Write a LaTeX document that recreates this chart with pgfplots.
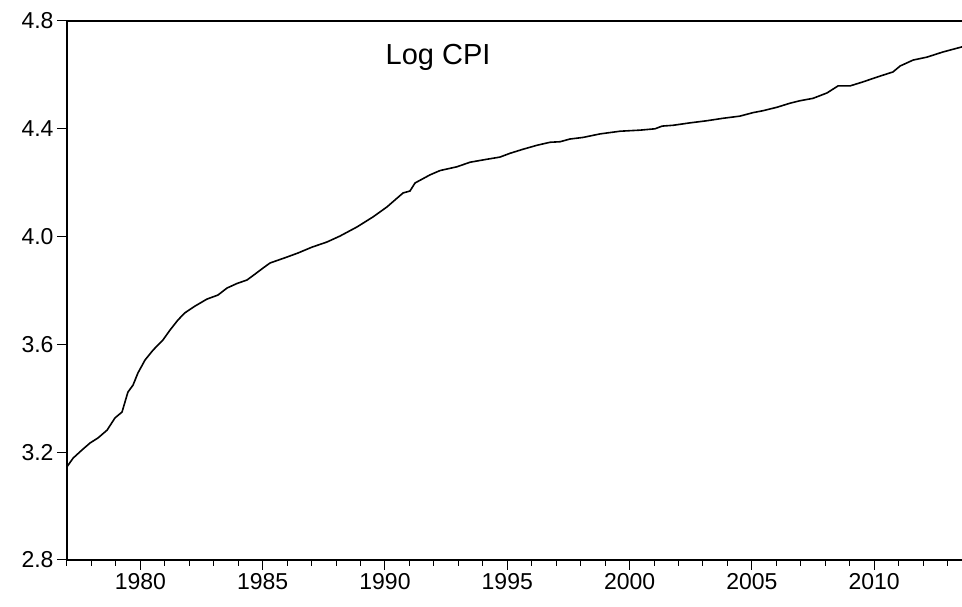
\documentclass[border=0pt]{standalone}
\usepackage{pgfplots}
\pgfplotsset{compat=1.18}
\usepackage{fontspec}
\setmainfont{Liberation Sans}
\begin{document}
\begin{tikzpicture}[x=1pt,y=1pt]
\begin{axis}[
  name=ax,
  at={(0pt,0pt)}, anchor=south west,
  scale only axis,
  width=895pt, height=539pt,
  xmin=1977, xmax=2013.59,
  ymin=2.8, ymax=4.8,
  axis x line=box, axis y line=left,
  axis line style={line width=1.2pt,-},
  xtick={1980,1985,...,2010},
  minor xtick={1977,1978,...,2013},
  xtick pos=bottom,
  ytick={2.8,3.2,3.6,4.0,4.4,4.8},
  ytick pos=left,
  tick align=outside,
  major tick length=10pt,
  minor tick length=6pt,
  every tick/.style={black,line width=1pt},
  /pgf/number format/assume math mode=true,
  xticklabel style={/pgf/number format/1000 sep={}},
  yticklabel style={/pgf/number format/fixed,/pgf/number format/fixed zerofill,/pgf/number format/precision=1},
  tick label style={font=\fontsize{23}{27}\selectfont},
  clip=true,
]
\addplot[black, line width=1.6pt, mark=none] coordinates {
(1977.00,3.146)
(1977.25,3.178)
(1977.61,3.208)
(1977.94,3.234)
(1978.27,3.253)
(1978.64,3.282)
(1978.96,3.327)
(1979.25,3.349)
(1979.49,3.423)
(1979.70,3.449)
(1979.90,3.494)
(1980.19,3.542)
(1980.52,3.579)
(1980.92,3.616)
(1981.21,3.653)
(1981.54,3.691)
(1981.82,3.717)
(1982.23,3.742)
(1982.72,3.768)
(1983.17,3.783)
(1983.54,3.809)
(1983.95,3.826)
(1984.36,3.839)
(1984.69,3.861)
(1985.01,3.883)
(1985.30,3.902)
(1985.99,3.924)
(1986.44,3.939)
(1987.02,3.961)
(1987.63,3.980)
(1988.16,4.002)
(1988.86,4.036)
(1989.51,4.073)
(1990.08,4.110)
(1990.74,4.162)
(1991.02,4.169)
(1991.23,4.199)
(1991.84,4.229)
(1992.25,4.245)
(1992.94,4.259)
(1993.48,4.276)
(1994.17,4.287)
(1994.70,4.295)
(1995.11,4.309)
(1995.64,4.324)
(1996.22,4.339)
(1996.75,4.350)
(1997.16,4.352)
(1997.56,4.362)
(1998.10,4.368)
(1998.79,4.381)
(1999.61,4.391)
(2000.43,4.395)
(2001.04,4.400)
(2001.33,4.410)
(2001.78,4.413)
(2002.47,4.422)
(2003.17,4.430)
(2003.82,4.439)
(2004.51,4.447)
(2005.05,4.460)
(2005.45,4.467)
(2006.03,4.480)
(2006.56,4.495)
(2006.96,4.504)
(2007.50,4.513)
(2008.07,4.533)
(2008.52,4.559)
(2009.01,4.559)
(2009.54,4.574)
(2010.12,4.592)
(2010.77,4.611)
(2011.06,4.633)
(2011.59,4.655)
(2012.16,4.666)
(2012.81,4.685)
(2013.59,4.704)
};
\node[anchor=base, inner sep=0pt, font=\fontsize{29}{34}\selectfont] at (axis cs:1992.17,4.637) {Log CPI};
\end{axis}
\pgfresetboundingbox
\path[use as bounding box] (-67pt,-47pt) rectangle (895pt,560pt);
\end{tikzpicture}
\end{document}
